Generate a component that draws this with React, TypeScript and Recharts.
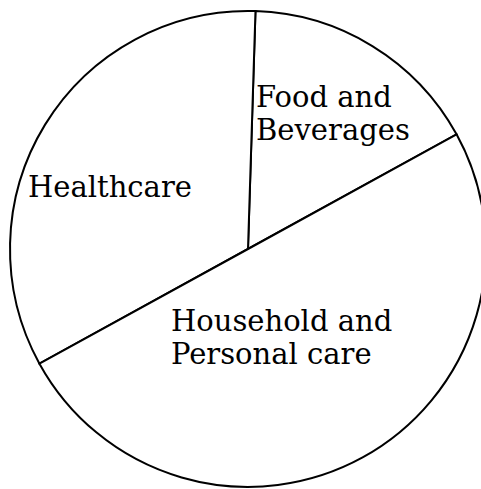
import { Cell, Pie, PieChart } from 'recharts';

// Segment names and shares (percent)
const categories = ['Food and Beverages', 'Healthcare', 'Household and Personal care'];
const shares = [16.5, 33.5, 50];
const labelLines = [['Food and', 'Beverages'], ['Healthcare'], ['Household and', 'Personal care']];

const data = categories.map((name, i) => ({ name, value: shares[i] }));

// where each label's first baseline sits, relative to the pie centre
const labelOffsets = [
  { dx: 8, dy: -142 },
  { dx: -220, dy: -52 },
  { dx: -77, dy: 82 },
];

const CX = 248;
const CY = 249;

function renderLabel(props: any) {
  const { cx, cy, index } = props;
  const off = labelOffsets[index];
  const x = cx + off.dx;
  const y = cy + off.dy;
  return (
    <text
      key={`lbl-${index}`}
      x={x}
      y={y}
      fill="#000"
      textAnchor="start"
      fontFamily="'DejaVu Serif', serif"
      fontSize={29}
    >
      {labelLines[index].map((line, j) => (
        <tspan key={j} x={x} dy={j === 0 ? 0 : 33}>
          {line}
        </tspan>
      ))}
    </text>
  );
}

export default function App() {
  return (
    <div style={{ position: 'absolute', left: 0, top: 0, width: 481, height: 489, background: '#fff' }}>
      <PieChart width={481} height={489} margin={{ top: 0, right: 0, bottom: 0, left: 0 }}>
        <Pie
          data={data}
          dataKey="value"
          nameKey="name"
          cx={CX}
          cy={CY}
          outerRadius={238}
          startAngle={28.8}
          endAngle={388.8}
          stroke="#000"
          strokeWidth={2}
          label={renderLabel}
          labelLine={false}
          isAnimationActive={false}
        >
          {data.map((d) => (
            <Cell key={d.name} fill="#fff" />
          ))}
        </Pie>
      </PieChart>
    </div>
  );
}
